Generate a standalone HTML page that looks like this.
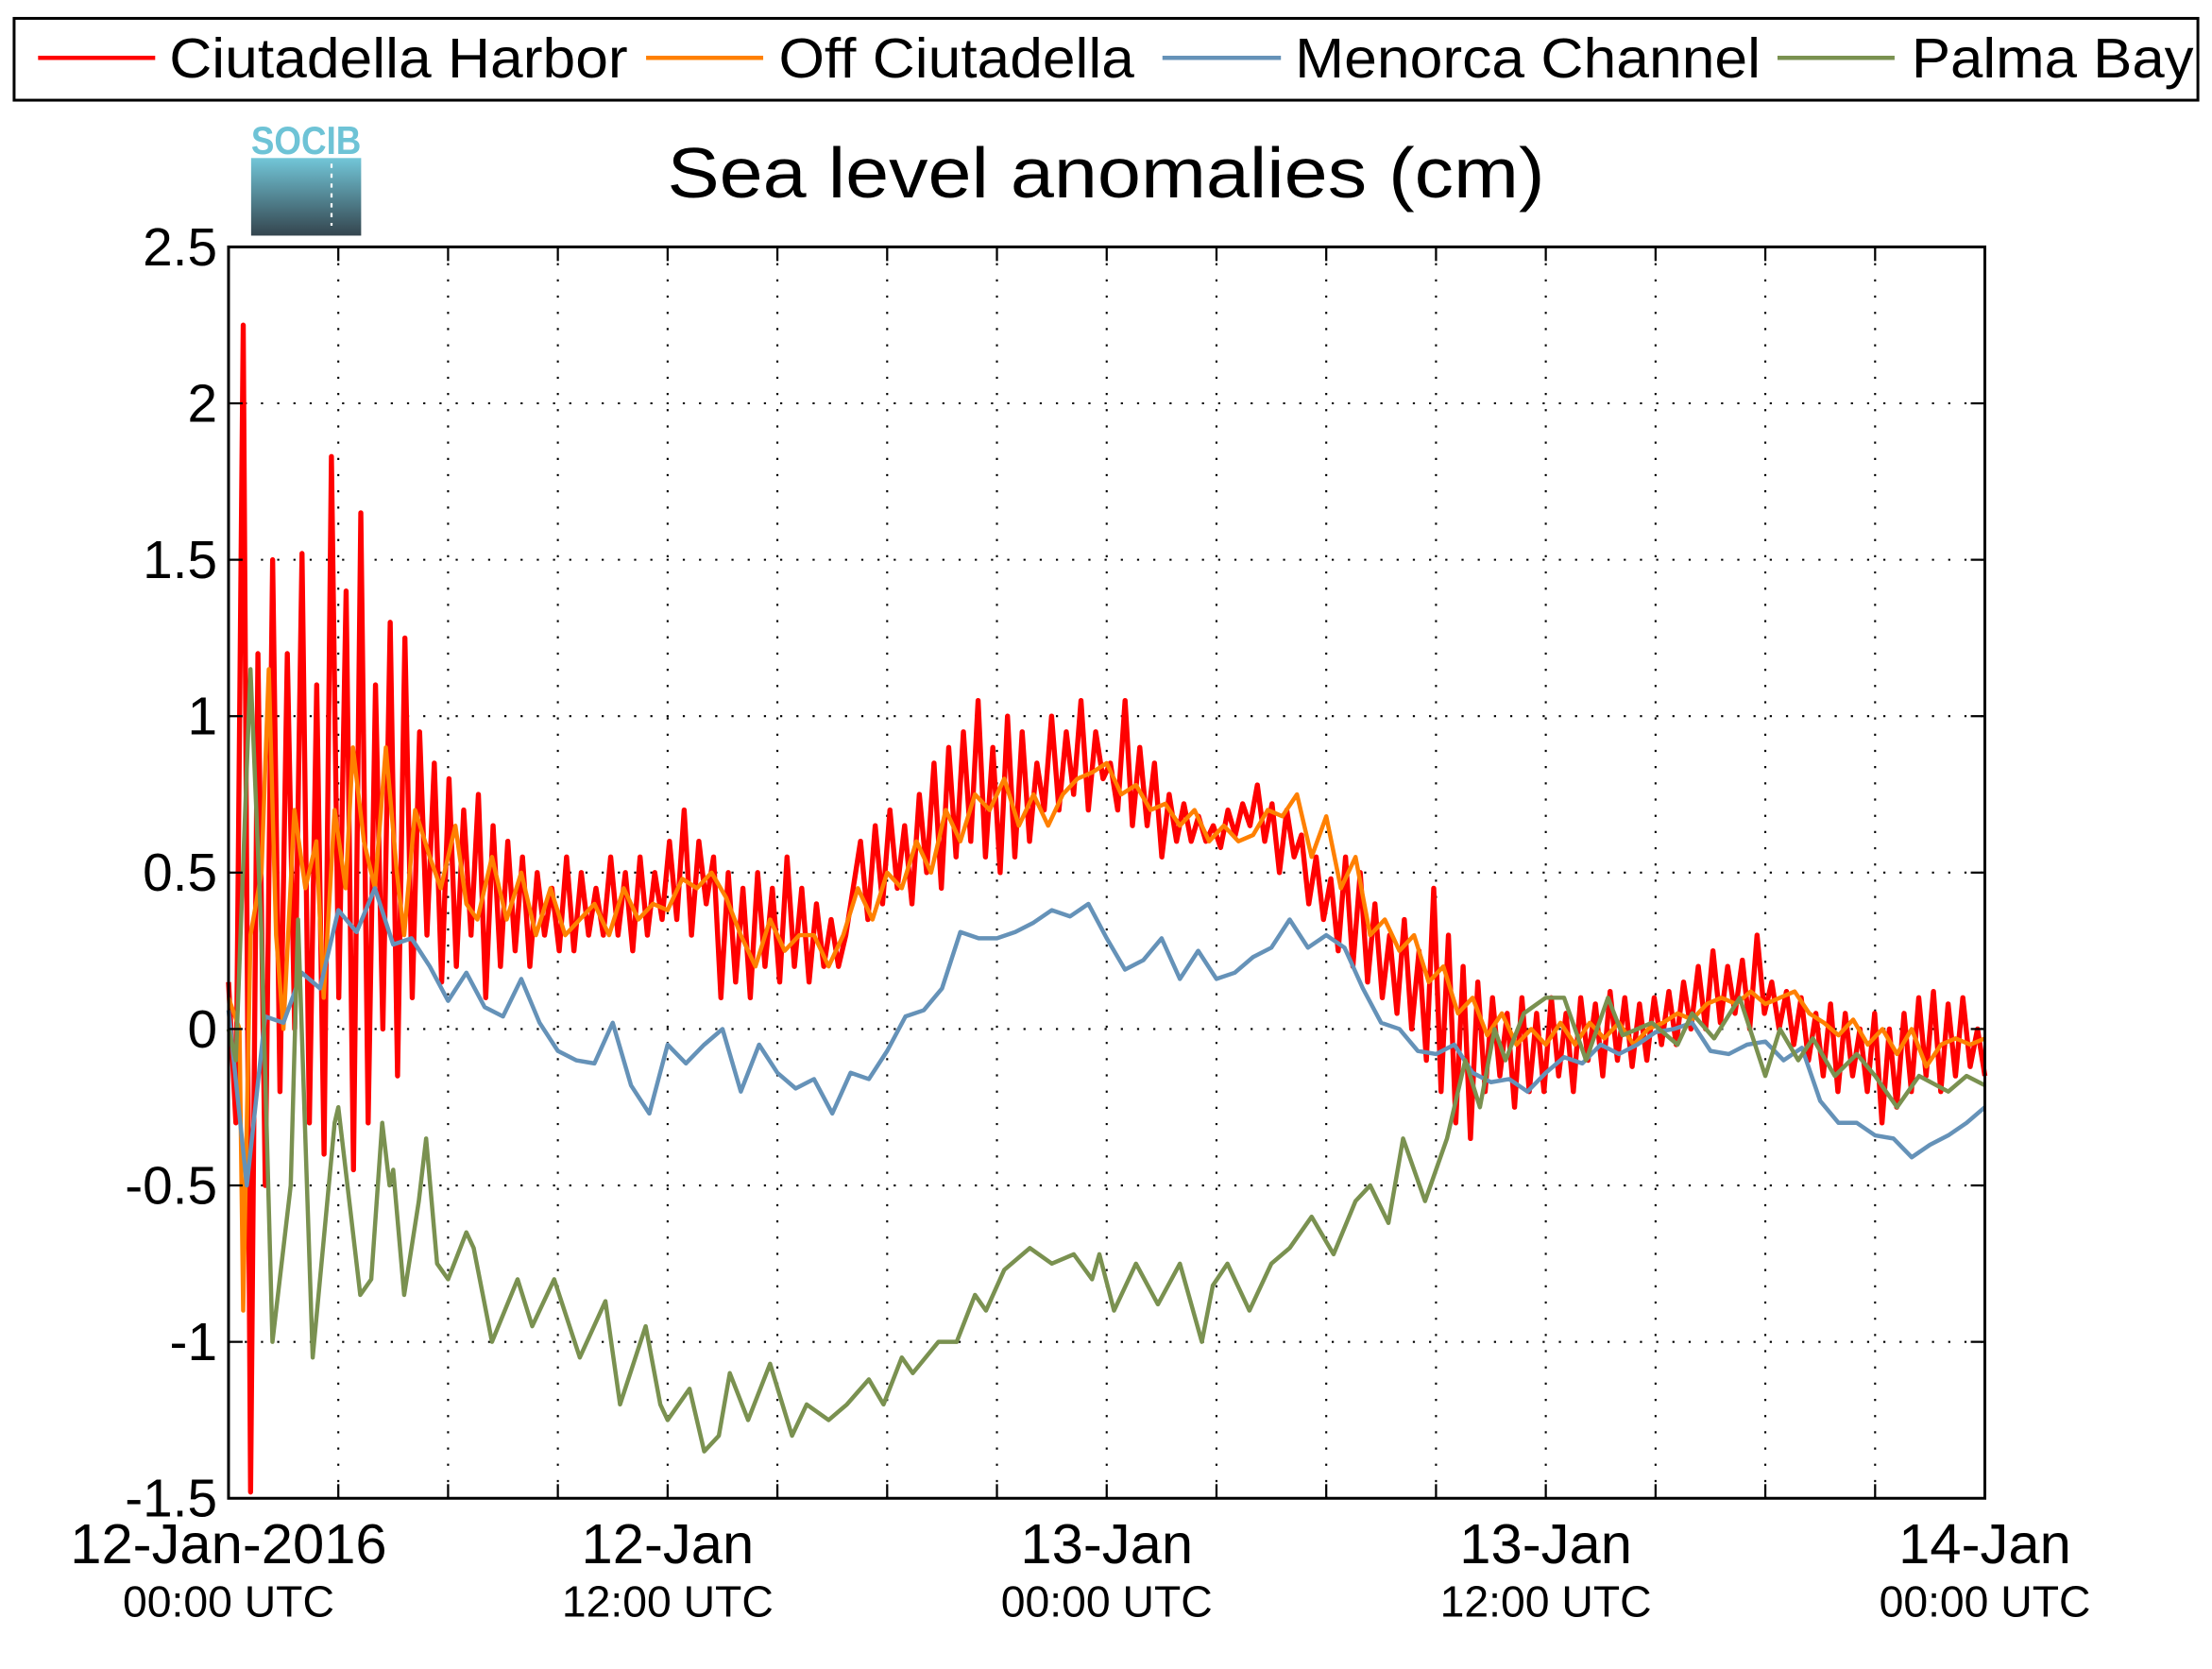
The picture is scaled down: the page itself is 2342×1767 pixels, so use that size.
<!DOCTYPE html>
<html><head><meta charset="utf-8"><style>
html,body{margin:0;padding:0;background:#fff;}
svg{display:block;font-family:"Liberation Sans",Arial,sans-serif;}
</style></head><body>
<svg id="chart" width="2342" height="1767" viewBox="0 0 1568 1183" xmlns="http://www.w3.org/2000/svg">
<defs><linearGradient id="lg" x1="0" y1="0" x2="0" y2="1"><stop offset="0" stop-color="#72c6d8"/><stop offset="1" stop-color="#34454e"/></linearGradient></defs>
<rect x="0" y="0" width="1568" height="1183" fill="#fff"/>
<g>
<rect x="10" y="13" width="1548" height="58" fill="#fff" stroke="#000" stroke-width="2"/>
<line x1="27" y1="41" x2="110" y2="41" stroke="#ff0000" stroke-width="3"/>
<text x="120" y="55" font-size="40" textLength="325" lengthAdjust="spacingAndGlyphs">Ciutadella Harbor</text>
<line x1="458" y1="41" x2="541" y2="41" stroke="#ff8000" stroke-width="3"/>
<text x="552" y="55" font-size="40" textLength="252" lengthAdjust="spacingAndGlyphs">Off Ciutadella</text>
<line x1="824" y1="41" x2="908" y2="41" stroke="#6592b8" stroke-width="3"/>
<text x="918" y="55" font-size="40" textLength="330" lengthAdjust="spacingAndGlyphs">Menorca Channel</text>
<line x1="1260" y1="41" x2="1343" y2="41" stroke="#7a9150" stroke-width="3"/>
<text x="1355" y="55" font-size="40" textLength="200" lengthAdjust="spacingAndGlyphs">Palma Bay</text>
</g>
<g>
<rect x="178" y="112" width="78" height="55" fill="url(#lg)"/>
<line x1="235" y1="116" x2="235" y2="160" stroke="#fff" stroke-width="1.5" stroke-dasharray="3,4"/>
<text x="217" y="109" font-size="28" font-weight="bold" fill="#6ec3d6" text-anchor="middle" textLength="78" lengthAdjust="spacingAndGlyphs">SOCIB</text>
</g>
<text x="473" y="140" font-size="50" textLength="622" lengthAdjust="spacingAndGlyphs">Sea level anomalies (cm)</text>
<g id="grid"></g>
<g id="series"></g>
<g id="axes"></g>
</svg>
<script>
const yTicks=[2.5,2,1.5,1,0.5,0,-0.5,-1,-1.5];
const yTickLabels=["2.5","2","1.5","1","0.5","0","-0.5","-1","-1.5"];
const xTickHours=[0,3,6,9,12,15,18,21,24,27,30,33,36,39,42,45,48];
const xLabelHours=[0,12,24,36,48];
const xLabelDates=["12-Jan-2016","12-Jan","13-Jan","13-Jan","14-Jan"];
const xLabelTimes=["00:00 UTC","12:00 UTC","00:00 UTC","12:00 UTC","00:00 UTC"];
const redValues=[0.15,-0.3,2.25,-1.48,1.2,-0.5,1.5,-0.2,1.2,0.0,1.52,-0.3,1.1,-0.4,1.83,0.1,1.4,-0.45,1.65,-0.3,1.1,0.0,1.3,-0.15,1.25,0.1,
0.95,0.3,0.85,0.15,0.8,0.2,0.7,0.3,0.75,0.1,0.65,0.2,0.6,0.25,0.55,0.2,0.5,0.3,0.45,0.25,0.55,0.25,0.5,0.3,0.45,0.3,0.55,0.3,0.5,0.25,0.55,0.3,0.5,0.35,
0.6,0.35,0.7,0.3,0.6,0.4,0.55,0.1,0.5,0.15,0.45,0.1,0.5,0.2,0.45,0.15,0.55,0.2,0.45,0.15,0.4,0.2,0.35,0.2,0.3,0.45,0.6,0.35,0.65,0.4,
0.7,0.45,0.65,0.4,0.75,0.5,0.85,0.45,0.9,0.55,0.95,0.6,1.05,0.55,0.9,0.5,1.0,0.55,0.95,0.6,0.85,0.7,1.0,0.7,0.95,0.75,1.05,0.7,0.95,0.8,
0.85,0.7,1.05,0.65,0.9,0.65,0.85,0.55,0.75,0.6,0.72,0.6,0.68,0.6,0.65,0.58,0.7,0.62,0.72,0.65,0.78,0.6,0.72,0.5,0.7,0.55,0.62,0.4,0.55,0.35,
0.48,0.25,0.55,0.2,0.5,0.15,0.4,0.1,0.3,0.05,0.35,0.0,0.25,-0.1,0.45,-0.2,0.3,-0.3,0.2,-0.35,0.15,-0.2,0.1,-0.15,0.05,-0.25,0.1,-0.2,0.05,-0.2,
0.1,-0.15,0.05,-0.2,0.1,-0.1,0.08,-0.15,0.12,-0.1,0.1,-0.12,0.08,-0.1,0.1,-0.05,0.12,-0.05,0.15,0.0,0.2,0.0,0.25,0.02,0.2,0.05,0.22,0.0,0.3,0.05,
0.15,0.0,0.12,-0.05,0.1,-0.1,0.05,-0.15,0.08,-0.2,0.05,-0.15,0.0,-0.2,0.05,-0.3,0.0,-0.25,0.05,-0.2,0.1,-0.15,0.12,-0.2,0.08,-0.15,0.1,-0.12,0.0,-0.15];
const orangeHours=[0,0.3,0.4,0.6,0.9,1.1,1.3,1.5,1.8,2.1,2.4,2.6,2.9,3.2,3.4,3.7,4.0,4.3,4.6,4.8,5.1,5.5,5.8,6.2,6.5,6.8,7.2,7.6,8.0,8.4,8.8,9.2,9.6,10.0,10.4,10.8,11.2,11.6,12.0,12.4,12.8,13.2,13.6,14.0,14.4,14.8,15.2,15.6,16.0,16.4,16.8,17.2,17.6,18.0,18.4,18.8,19.2,19.6,20.0,20.4,20.8,21.2,21.6,22.0,22.4,22.8,23.2,23.6,24.0,24.4,24.8,25.2,25.6,26.0,26.4,26.8,27.2,27.6,28.0,28.4,28.8,29.2,29.6,30.0,30.4,30.8,31.2,31.6,32.0,32.4,32.8,33.2,33.6,34.0,34.4,34.8,35.2,35.6,36.0,36.4,36.8,37.2,37.6,38.0,38.4,38.8,39.2,39.6,40.0,40.4,40.8,41.2,41.6,42.0,42.4,42.8,43.2,43.6,44.0,44.4,44.8,45.2,45.6,46.0,46.4,46.8,47.2,47.6,48];
const orangeValues=[0.1,0.0,-0.9,0.3,0.5,1.15,0.3,0.0,0.7,0.45,0.6,0.1,0.7,0.45,0.9,0.6,0.45,0.9,0.5,0.3,0.7,0.55,0.45,0.65,0.4,0.35,0.55,0.35,0.5,0.3,0.45,0.3,0.35,0.4,0.3,0.45,0.35,0.4,0.38,0.48,0.45,0.5,0.42,0.3,0.2,0.35,0.25,0.3,0.3,0.2,0.3,0.45,0.35,0.5,0.45,0.6,0.5,0.7,0.6,0.75,0.7,0.8,0.65,0.75,0.65,0.75,0.8,0.82,0.85,0.75,0.78,0.7,0.72,0.65,0.7,0.6,0.65,0.6,0.62,0.7,0.68,0.75,0.55,0.68,0.45,0.55,0.3,0.35,0.25,0.3,0.15,0.2,0.05,0.1,-0.02,0.05,-0.05,0.0,-0.05,0.02,-0.05,0.02,-0.03,0.02,-0.05,0.0,0.02,0.05,0.03,0.08,0.1,0.08,0.12,0.08,0.1,0.12,0.05,0.02,-0.02,0.03,-0.05,0.0,-0.08,0.0,-0.12,-0.05,-0.03,-0.05,-0.03];
const blueValues=[0.06,-0.5,0.04,0.02,0.18,0.13,0.38,0.31,0.45,0.27,0.29,0.2,0.09,0.18,0.07,0.04,0.16,0.02,-0.07,-0.1,-0.11,0.02,-0.18,-0.27,-0.05,-0.11,-0.05,0,-0.2,-0.05,-0.14,-0.19,-0.16,-0.27,-0.14,-0.16,-0.07,0.04,0.06,0.13,0.31,0.29,0.29,0.31,0.34,0.38,0.36,0.4,0.29,0.19,0.22,0.29,0.16,0.25,0.16,0.18,0.23,0.26,0.35,0.26,0.3,0.26,0.13,0.02,0,-0.07,-0.08,-0.05,-0.14,-0.17,-0.16,-0.2,-0.14,-0.09,-0.11,-0.05,-0.08,-0.05,-0.01,0,0.02,-0.07,-0.08,-0.05,-0.04,-0.1,-0.06,-0.23,-0.3,-0.3,-0.34,-0.35,-0.41,-0.37,-0.34,-0.3,-0.25];
const greenHours=[0,0.2,0.6,0.9,1.2,1.5,1.7,1.9,2.3,2.9,3.0,3.6,3.9,4.2,4.4,4.5,4.8,5.2,5.4,5.7,6.0,6.5,6.7,7.2,7.9,8.3,8.9,9.6,10.3,10.7,11.4,11.8,12.0,12.6,13.0,13.4,13.7,14.2,14.8,15.4,15.8,16.4,16.9,17.5,17.9,18.4,18.7,19.4,19.9,20.4,20.7,21.2,21.9,22.5,23.1,23.6,23.8,24.2,24.8,25.4,26.0,26.6,26.9,27.3,27.9,28.5,29.0,29.6,30.2,30.8,31.2,31.7,32.1,32.7,33.3,33.8,34.2,34.6,34.9,35.4,36.0,36.5,37.1,37.7,38.1,38.9,39.6,40.0,40.6,41.3,42.0,42.4,42.9,43.3,43.9,44.5,45.0,45.6,46.2,47.0,47.5,48];
const greenValues=[0,-0.1,1.15,0.3,-1.0,-0.7,-0.5,0.35,-1.05,-0.3,-0.25,-0.85,-0.8,-0.3,-0.5,-0.45,-0.85,-0.55,-0.35,-0.75,-0.8,-0.65,-0.7,-1.0,-0.8,-0.95,-0.8,-1.05,-0.87,-1.2,-0.95,-1.2,-1.25,-1.15,-1.35,-1.3,-1.1,-1.25,-1.07,-1.3,-1.2,-1.25,-1.2,-1.12,-1.2,-1.05,-1.1,-1.0,-1.0,-0.85,-0.9,-0.77,-0.7,-0.75,-0.72,-0.8,-0.72,-0.9,-0.75,-0.88,-0.75,-1.0,-0.82,-0.75,-0.9,-0.75,-0.7,-0.6,-0.72,-0.55,-0.5,-0.62,-0.35,-0.55,-0.35,-0.1,-0.25,0.0,-0.1,0.05,0.1,0.1,-0.1,0.1,-0.02,0.02,-0.05,0.05,-0.03,0.1,-0.15,0.0,-0.1,-0.03,-0.15,-0.08,-0.15,-0.25,-0.15,-0.2,-0.15,-0.18];

const NS="http://www.w3.org/2000/svg";
const L=162,R=1407,T=175,B=1062;
const xs=h=>L+(h/48)*(R-L);
const ys=v=>T+(2.5-v)/4*(B-T);
function mk(tag,attrs,parent){const e=document.createElementNS(NS,tag);for(const k in attrs)e.setAttribute(k,attrs[k]);parent.appendChild(e);return e;}
const grid=document.getElementById('grid'),axes=document.getElementById('axes'),series=document.getElementById('series');
yTicks.forEach((v,i)=>{
  const y=ys(v);
  if(i>0&&i<yTicks.length-1){const g=mk('line',{x1:L,y1:y,x2:R,y2:y,stroke:'#000','stroke-width':1.4,'stroke-dasharray':'1.5,10'},grid);
  
  }
  mk('line',{x1:L,y1:y,x2:L+10,y2:y,stroke:'#000','stroke-width':1.5},axes);
  mk('line',{x1:R,y1:y,x2:R-10,y2:y,stroke:'#000','stroke-width':1.5},axes);
  const t=mk('text',{x:154,y:y+13,'font-size':38,'text-anchor':'end'},axes);t.textContent=yTickLabels[i];
  
  
});
xTickHours.forEach((h,i)=>{
  const x=xs(h);
  if(i>0&&i<xTickHours.length-1){const g=mk('line',{x1:x,y1:T,x2:x,y2:B,stroke:'#000','stroke-width':1.4,'stroke-dasharray':'1.5,10'},grid);
  
  }
  mk('line',{x1:x,y1:B,x2:x,y2:B-10,stroke:'#000','stroke-width':1.5},axes);
  mk('line',{x1:x,y1:T,x2:x,y2:T+10,stroke:'#000','stroke-width':1.5},axes);
});
xLabelHours.forEach((h,i)=>{
  const x=xs(h);
  const a=mk('text',{x:x,y:1108,'font-size':40,'text-anchor':'middle'},axes);a.textContent=xLabelDates[i];
  
  
  const b=mk('text',{x:x,y:1146,'font-size':31,'text-anchor':'middle'},axes);b.textContent=xLabelTimes[i];
  
  
});
const frame=mk('rect',{x:L,y:T,width:R-L,height:B-T,fill:'none',stroke:'#000','stroke-width':2},axes);


function line(hours,vals,color,w,name){
  const d=vals.map((v,i)=>(i?'L':'M')+xs(hours[i]).toFixed(2)+','+ys(v).toFixed(2)).join('');
  const p=mk('path',{d:d,fill:'none',stroke:color,'stroke-width':w,'stroke-linejoin':'round'},series);
  
  
}
const redHours=redValues.map((v,i)=>i*48/(redValues.length-1));
const blueHours=blueValues.map((v,i)=>i*48/(blueValues.length-1));
line(redHours,redValues,'#ff0000',3.6,'ciutadella-harbor-line');
line(orangeHours,orangeValues,'#ff8000',3,'off-ciutadella-line');
line(blueHours,blueValues,'#6592b8',3,'menorca-channel-line');
line(greenHours,greenValues,'#7a9150',3,'palma-bay-line');
</script>
</body></html>
